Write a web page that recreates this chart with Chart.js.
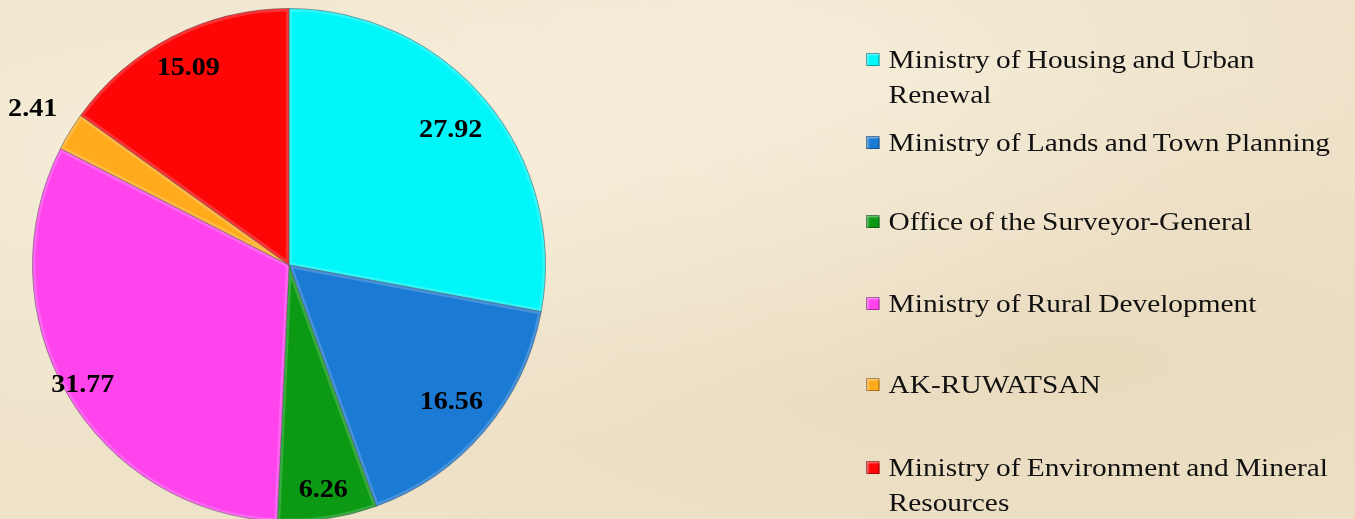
<!DOCTYPE html>
<html>
<head>
<meta charset="utf-8">
<script src="https://cdn.jsdelivr.net/npm/chart.js@4.4.0/dist/chart.umd.min.js"></script>
<style>
    html, body {
        margin: 0;
        padding: 0;
        width: 1355px;
        height: 519px;
        overflow: hidden;
        background: #eee2c9;
        background-image:
            radial-gradient(ellipse at 20% 30%, rgba(255,250,235,0.5), rgba(255,250,235,0) 60%),
            radial-gradient(ellipse at 80% 70%, rgba(225,205,170,0.35), rgba(225,205,170,0) 55%),
            radial-gradient(ellipse at 60% 10%, rgba(250,242,225,0.5), rgba(250,242,225,0) 50%);
        font-family: "Liberation Serif", "DejaVu Serif", serif;
    }
    #chartWrap {
        position: absolute;
        left: 0;
        top: 0;
        width: 578px;
        height: 530px;
    }
    #legend {
        position: absolute;
        left: 866px;
        top: 0;
        width: 440px;
        color: #111;
        font-size: 26px;
        word-spacing: -1px;
        line-height: 35px;
        transform: scaleX(1.13);
        transform-origin: 0 0;
    }
    .item {
        position: absolute;
        left: 0;
        padding-left: 20px;
        white-space: nowrap;
    }
    .box {
        position: absolute;
        left: 0;
        top: 11px;
        width: 12px;
        height: 13px;
        box-shadow: inset 0 0 0 1px rgba(0,0,0,0.35), inset 2px 2px 2px rgba(255,255,255,0.5);
    }
</style>
</head>
<body>
<div id="chartWrap"><canvas id="pieChart"></canvas></div>
<div id="legend"></div>
<script>
// chart data
const categories = [
    'Ministry of Housing and Urban Renewal',
    'Ministry of Lands and Town Planning',
    'Office of the Surveyor-General',
    'Ministry of Rural Development',
    'AK-RUWATSAN',
    'Ministry of Environment and Mineral Resources'
];
const shares = [27.92, 16.56, 6.26, 31.77, 2.41, 15.09];
const valueLabels = ['27.92', '16.56', '6.26', '31.77', '2.41', '15.09'];

// styling
const sliceColors = ['#00f6f8', '#1a7ad4', '#0c9a14', '#ff44ee', '#ffab1c', '#fc0606'];
const labelRadius = [0.82, 0.83, 0.89, 0.93, 1.17, 0.86];
// legend text split the way the picture wraps it
const legendLines = [
    ['Ministry of Housing and Urban', 'Renewal'],
    ['Ministry of Lands and Town Planning'],
    ['Office of the Surveyor-General'],
    ['Ministry of Rural Development'],
    ['AK-RUWATSAN'],
    ['Ministry of Environment and Mineral', 'Resources']
];
const legendTops = [42, 125, 204, 286, 367, 450];

const sliceLabels = {
    id: 'sliceLabels',
    afterDatasetsDraw(chart) {
        const { ctx } = chart;
        const arcs = chart.getDatasetMeta(0).data;
        arcs.forEach((arc, i) => {
            const mid = (arc.startAngle + arc.endAngle) / 2;
            const r = arc.outerRadius * labelRadius[i];
            ctx.save();
            ctx.translate(arc.x + Math.cos(mid) * r, arc.y + Math.sin(mid) * r);
            ctx.scale(1.08, 1);
            ctx.font = 'bold 26px "Liberation Serif", serif';
            ctx.fillStyle = '#000';
            ctx.textAlign = 'center';
            ctx.textBaseline = 'middle';
            ctx.fillText(valueLabels[i], 0, 0);
            ctx.restore();
        });
    }
};

// soft bevel along each slice edge
const bevel = {
    id: 'bevel',
    afterDatasetsDraw(chart) {
        const { ctx } = chart;
        chart.getDatasetMeta(0).data.forEach(arc => {
            ctx.save();
            ctx.beginPath();
            ctx.moveTo(arc.x, arc.y);
            ctx.arc(arc.x, arc.y, arc.outerRadius, arc.startAngle, arc.endAngle);
            ctx.closePath();
            ctx.clip();
            ctx.lineWidth = 6;
            ctx.strokeStyle = 'rgba(255,255,255,0.18)';
            ctx.stroke();
            ctx.restore();
        });
    }
};

document.addEventListener('DOMContentLoaded', () => {
    const legend = document.getElementById('legend');
    legendLines.forEach((lines, i) => {
        const item = document.createElement('div');
        item.className = 'item';
        item.style.top = legendTops[i] + 'px';
        item.innerHTML = `<span class="box" style="background:${sliceColors[i]}"></span>` + lines.join('<br>');
        legend.appendChild(item);
    });

    const ctx = document.getElementById('pieChart').getContext('2d');
    new Chart(ctx, {
        type: 'pie',
        data: {
            labels: categories,
            datasets: [{
                data: shares,
                backgroundColor: sliceColors,
                borderColor: 'rgba(40,40,60,0.45)',
                borderWidth: 1
            }]
        },
        options: {
            responsive: true,
            maintainAspectRatio: false,
            animation: false,
            layout: { padding: { left: 32, right: 32, top: 8, bottom: 8 } },
            plugins: {
                legend: { display: false },
                tooltip: { enabled: false }
            }
        },
        plugins: [bevel, sliceLabels]
    });
});
</script>
</body>
</html>
